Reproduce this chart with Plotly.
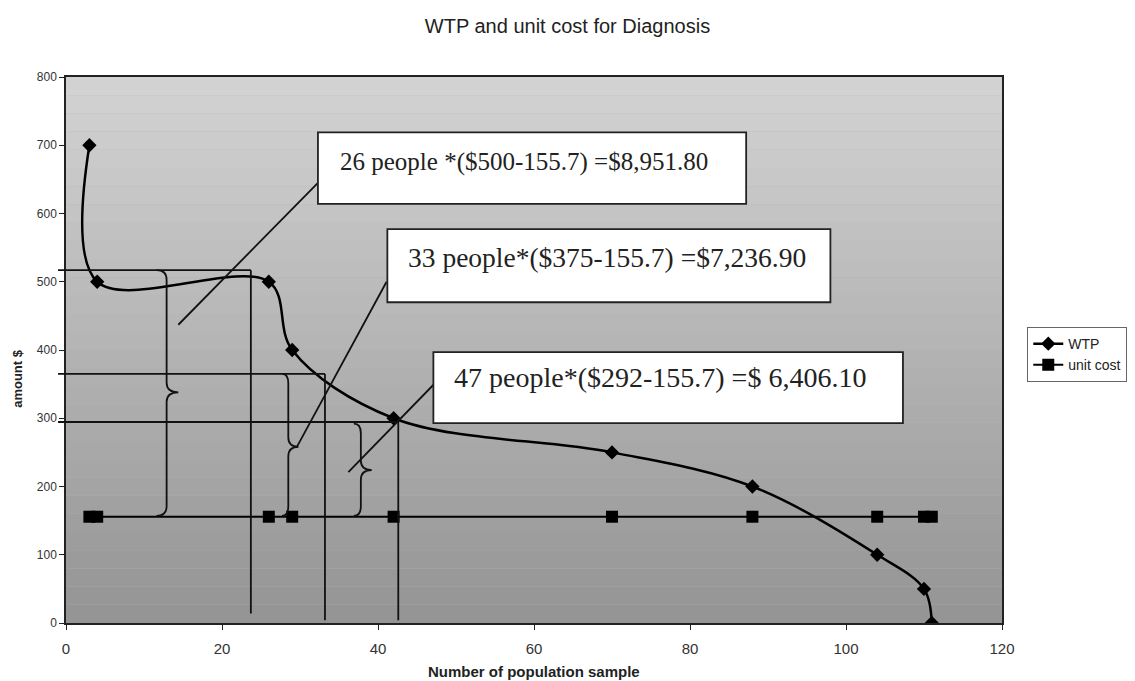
import plotly.graph_objects as go

# ---- data ----
population = [3, 4, 26, 29, 42, 70, 88, 104, 110, 111]
wtp = [700, 500, 500, 400, 300, 250, 200, 100, 50, 0]
unit_cost = [155.7] * 10

title_text = "WTP and unit cost for Diagnosis"
x_title = "Number of population sample"
y_title = "amount $"
box_texts = [
    "26 people *($500-155.7) =$8,951.80",
    "33 people*($375-155.7) =$7,236.90",
    "47 people*($292-155.7) =$ 6,406.10",
]
x_ticks = [0, 20, 40, 60, 80, 100, 120]
y_ticks = [0, 100, 200, 300, 400, 500, 600, 700, 800]

fig = go.Figure()
fig.add_trace(go.Scatter(
    x=population, y=wtp, name="WTP", mode="lines+markers",
    line=dict(color="black", width=2.5, shape="spline", smoothing=1.0),
    marker=dict(symbol="diamond", size=11, color="black"),
))
fig.add_trace(go.Scatter(
    x=population, y=unit_cost, name="unit cost", mode="lines+markers",
    line=dict(color="black", width=2, shape="spline", smoothing=1.0),
    marker=dict(symbol="square", size=12, color="black"),
))

shapes = []
# gradient-ish scanned background
n = 30
for i in range(n):
    t = (i + 0.5) / n
    g = int(148 + (212 - 148) * t)
    shapes.append(dict(type="rect", xref="paper", yref="paper", x0=0, x1=1,
                       y0=i / n, y1=(i + 1) / n, fillcolor=f"rgb({g},{g},{g})",
                       line=dict(width=0), layer="below"))

lc = dict(color="#111", width=1.8)
# guide lines (horizontal to vertical drop lines)
for yv, xv, ybot in [(517, 23.7, 14), (365, 33.2, 4), (294.5, 42.6, 4)]:
    shapes.append(dict(type="line", xref="paper", yref="y", x0=-0.0085, x1=xv / 120, y0=yv, y1=yv,
                       line=lc, layer="above"))
    shapes.append(dict(type="line", xref="x", yref="y", x0=xv, x1=xv, y0=yv, y1=ybot, line=lc, layer="above"))


def brace(xv, xtip, xend, ytop, ymid, ybot, r=14):
    return (f"M {xend},{ytop} Q {xv},{ytop} {xv},{ytop - r} "
            f"L {xv},{ymid + r} Q {xv},{ymid} {xtip},{ymid} "
            f"Q {xv},{ymid} {xv},{ymid - r} "
            f"L {xv},{ybot + r} Q {xv},{ybot} {xend},{ybot}")


for args in [(12.9, 14.4, 11.6, 517, 338, 157),
             (28.5, 29.8, 27.7, 365, 258, 157),
             (37.8, 39.2, 36.9, 292, 224, 157)]:
    shapes.append(dict(type="path", xref="x", yref="y", path=brace(*args),
                       line=lc, layer="above"))

# leader lines
for x0, y0, x1, y1 in [(32.3, 645, 14.4, 437), (41.1, 500, 29.6, 258), (48.3, 363, 36.2, 221)]:
    shapes.append(dict(type="line", xref="x", yref="y", x0=x0, y0=y0, x1=x1, y1=y1, line=lc, layer="above"))

# text boxes
boxes = [(32.3, 87.2, 614, 719), (41.2, 98.0, 470, 577), (47.1, 107.3, 293, 397)]
for x0, x1, y0, y1 in boxes:
    shapes.append(dict(type="rect", xref="x", yref="y", x0=x0, x1=x1, y0=y0, y1=y1,
                       fillcolor="white", line=dict(color="#222", width=1.8), layer="above"))

annotations = []
for (tx, ty, fs), txt in zip([(34.9, 675, 25), (43.6, 536, 27.5), (49.5, 360, 28)], box_texts):
    annotations.append(dict(x=tx, y=ty, xref="x", yref="y", text=txt, showarrow=False,
                            xanchor="left", yanchor="middle",
                            font=dict(family="Liberation Serif, Times New Roman, serif", size=fs, color="#222")))

annotations.append(dict(x=0.5, y=-0.088, xref="paper", yref="paper", text=f"<b>{x_title}</b>",
                        showarrow=False, xanchor="center", yanchor="middle",
                        font=dict(family="Liberation Sans, Arial, sans-serif", size=15, color="#222")))
annotations.append(dict(x=-0.0513, y=0.449, xref="paper", yref="paper", text=f"<b>{y_title}</b>",
                        showarrow=False, textangle=-90, xanchor="center", yanchor="middle",
                        font=dict(family="Liberation Sans, Arial, sans-serif", size=13, color="#222")))

fig.update_layout(
    width=1135, height=681,
    margin=dict(l=66, r=133, t=77, b=58, autoexpand=False),
    paper_bgcolor="white", plot_bgcolor="#b4b4b4",
    title=dict(text=title_text, x=0.5, xref="container", xanchor="center",
               y=1 - 26 / 681, yanchor="middle",
               font=dict(family="Liberation Sans, Arial, sans-serif", size=20, color="#222")),
    shapes=shapes, annotations=annotations,
    showlegend=True,
    legend=dict(x=1.027, y=0.542, xanchor="left", yanchor="top",
                bgcolor="white", bordercolor="#666", borderwidth=1,
                font=dict(family="Liberation Sans, Arial, sans-serif", size=14, color="#222"),
                tracegroupgap=0),
)
fig.update_xaxes(range=[0, 120], tickvals=x_ticks, showgrid=False, zeroline=False,
                 showline=True, linecolor="#222", linewidth=1.5, mirror=True,
                 ticks="outside", ticklen=5, tickcolor="#222",
                 tickfont=dict(family="Liberation Sans, Arial, sans-serif", size=15, color="#333"),
                 ticklabelstandoff=6)
fig.update_yaxes(range=[0, 800], tickvals=y_ticks, showgrid=False, zeroline=False,
                 showline=True, linecolor="#222", linewidth=1.5, mirror=True,
                 ticks="outside", ticklen=5, tickcolor="#222",
                 tickfont=dict(family="Liberation Sans, Arial, sans-serif", size=12, color="#333"))

fig.write_html("out.html", config={"displayModeBar": False},
               post_script="document.body.style.margin='0';document.body.style.overflow='hidden';")
